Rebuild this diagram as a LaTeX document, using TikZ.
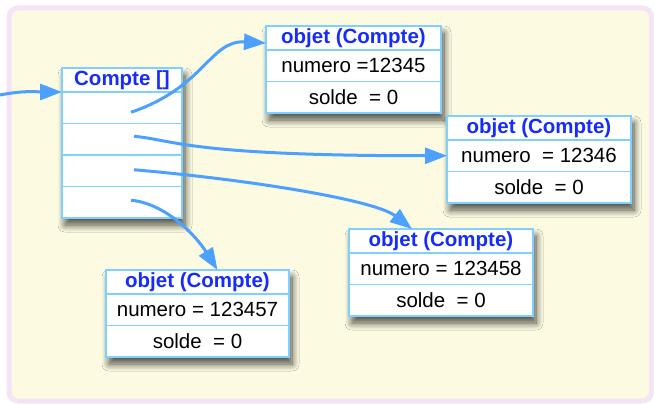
\documentclass[tikz,border=0pt]{standalone}
\usepackage{fontspec}
\setmainfont{Liberation Sans}
\usetikzlibrary{arrows.meta,positioning,calc,shadows.blur,backgrounds}
\definecolor{bgfill}{RGB}{252,251,226}
\definecolor{bgline}{RGB}{244,228,246}
\definecolor{boxline}{RGB}{125,208,255}
\definecolor{hdrtext}{RGB}{22,44,250}
\definecolor{ptrcol}{RGB}{76,160,255}
\tikzset{
  frame/.style={draw=bgline, fill=bgfill, line width=5pt, rounded corners=9pt},
  boxshadow/.style={fill=white, blur shadow={shadow xshift=3pt, shadow yshift=-7pt,
                    shadow opacity=70, shadow blur radius=7pt, shadow blur steps=10}},
  cell/.style={draw=boxline, fill=white, line width=1.5pt, inner sep=0pt, outer sep=0pt,
               minimum height=31.5pt, font=\fontsize{20.5}{24}\selectfont},
  hdr/.style={cell, minimum height=24pt, text=hdrtext,
              font=\fontsize{20.5}{24}\selectfont\bfseries},
  ptr/.style={-{Triangle[length=22pt,width=16pt]}, ptrcol, line width=3pt},
}
\begin{document}
\begin{tikzpicture}[x=1pt, y=-1pt]
  \useasboundingbox (0,0) rectangle (654,404);
  % tableau
  \node[hdr, minimum width=120pt, anchor=north west] (tabh) at (62,68) {Compte []};
  \node[cell, minimum width=120pt, below=0pt of tabh] (tab1) {};
  \node[cell, minimum width=120pt, below=0pt of tab1] (tab2) {};
  \node[cell, minimum width=120pt, below=0pt of tab2] (tab3) {};
  \node[cell, minimum width=120pt, below=0pt of tab3] (tab4) {};
  % objets
  \node[hdr, minimum width=175pt, anchor=north west] (ob1h) at (266,26) {objet (Compte)};
  \node[cell, minimum width=175pt, below=0pt of ob1h] (ob1n) {numero =12345};
  \node[cell, minimum width=175pt, below=0pt of ob1n] (ob1s) {solde~~= 0};
  \node[hdr, minimum width=184pt, anchor=north west] (ob2h) at (447,116) {objet (Compte)};
  \node[cell, minimum width=184pt, below=0pt of ob2h] (ob2n) {numero~~= 12346};
  \node[cell, minimum width=184pt, below=0pt of ob2n] (ob2s) {solde~~= 0};
  \node[hdr, minimum width=183pt, anchor=north west] (ob3h) at (106,270) {objet (Compte)};
  \node[cell, minimum width=183pt, below=0pt of ob3h] (ob3n) {numero = 123457};
  \node[cell, minimum width=183pt, below=0pt of ob3n] (ob3s) {solde~~= 0};
  \node[hdr, minimum width=184pt, anchor=north west] (ob4h) at (349,229) {objet (Compte)};
  \node[cell, minimum width=184pt, below=0pt of ob4h] (ob4n) {numero = 123458};
  \node[cell, minimum width=184pt, below=0pt of ob4n] (ob4s) {solde~~= 0};
  % fond et ombres
  \begin{scope}[on background layer]
    \draw[frame] (9,8) rectangle (651.5,401);
    \path[boxshadow] (tabh.north west) rectangle (tab4.south east);
    \path[boxshadow] (ob1h.north west) rectangle (ob1s.south east);
    \path[boxshadow] (ob2h.north west) rectangle (ob2s.south east);
    \path[boxshadow] (ob3h.north west) rectangle (ob3s.south east);
    \path[boxshadow] (ob4h.north west) rectangle (ob4s.south east);
  \end{scope}
  % references
  \coordinate (in) at (0,95);
  \draw[ptr] (in) .. controls +(25,-5) and +(-22,0) .. (tabh.south west);
  \draw[ptr] ($(tab1.center)+(9,4.5)$) .. controls +(74,-25) and +(-56,-3) .. ($(ob1h.west)+(0,5)$);
  \draw[ptr] ($(tab2.center)+(12,-3)$) .. controls +(41,4) and +(-257,0) .. (ob2n.west);
  \draw[ptr] ($(tab3.center)+(12,-1)$) .. controls +(116,10) and +(-37,-29) .. ($(ob4h.north)+(-29,0)$);
  \draw[ptr] ($(tab4.center)+(9,-2)$) .. controls +(34,3) and +(-22,-35) .. ($(ob3h.north)+(20,0)$);
\end{tikzpicture}
\end{document}
